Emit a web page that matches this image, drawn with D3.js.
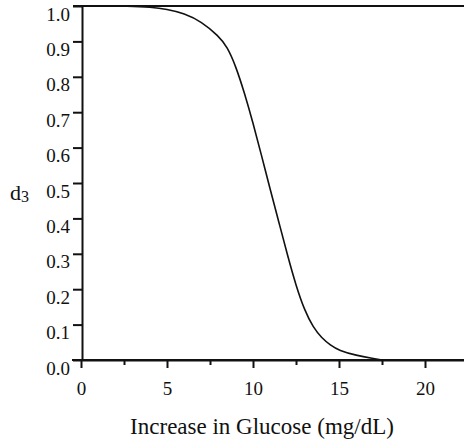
<!DOCTYPE html>
<html>
<head>
<meta charset="utf-8">
<script src="https://cdn.jsdelivr.net/npm/d3@7"></script>
<style>
  body { margin: 0; background: #fff; }
  svg { display: block; }
</style>
</head>
<body>
<svg width="464" height="440"></svg>
<script>
// glucose increase (mg/dL) and d3 values
var glucose = [0, 3, 4, 5, 6, 7, 8, 8.5, 9, 9.5, 10, 10.5, 11, 11.5, 12, 12.5, 13, 13.5, 14, 14.5, 15, 16, 17, 17.5];
var d3vals  = [1.0, 1.0, 0.997, 0.991, 0.979, 0.956, 0.915, 0.885, 0.83, 0.755, 0.67, 0.577, 0.482, 0.39, 0.297, 0.21, 0.14, 0.092, 0.062, 0.042, 0.027, 0.013, 0.004, 0.0];
var xTicks = [0, 5, 10, 15, 20];
var xMinor = [2.5, 7.5, 12.5, 17.5];
var yTicks = [0, 0.1, 0.2, 0.3, 0.4, 0.5, 0.6, 0.7, 0.8, 0.9, 1.0];

var serif = "'Liberation Serif', 'Times New Roman', Times, serif";
var ink = "#111";

var svg = d3.select("svg"),
  margin = { top: 6, right: 0, bottom: 80, left: 81 },
  width = 464 - margin.left - margin.right,
  height = 440 - margin.top - margin.bottom;

var x = d3.scaleLinear().domain([0, width / 17.2]).range([0, width]),
  y = d3.scaleLinear().domain([0, 1]).range([height, 0]);

var g = svg.append("g")
  .attr("transform", "translate(" + margin.left + "," + margin.top + ")");

// x axis, major ticks
var xa = g.append("g")
  .attr("transform", "translate(0," + height + ")")
  .call(d3.axisBottom(x).tickValues(xTicks).tickSize(8).tickSizeOuter(0).tickPadding(0).tickFormat(d3.format("d")));
xa.selectAll(".tick text").attr("y", 35).attr("dy", null);

// minor ticks
g.append("g")
  .attr("transform", "translate(0," + height + ")")
  .call(d3.axisBottom(x).tickValues(xMinor).tickSize(5).tickSizeOuter(0).tickFormat(""))
  .select(".domain").remove();

// y axis (labels sit a bit below their ticks, as in the scan)
var ya = g.append("g")
  .attr("transform", "translate(1,0)")
  .call(d3.axisLeft(y).tickValues(yTicks).tickSize(9).tickSizeOuter(0).tickPadding(3).tickFormat(d3.format(".1f")));
ya.selectAll(".tick text").attr("dy", null).attr("y", 14);

svg.selectAll(".tick text")
  .style("font-family", serif).style("font-size", "19px").style("fill", ink);
svg.selectAll(".domain, .tick line").attr("stroke", ink).attr("stroke-width", 2);

// extend x axis line to the left, and top line at 1.0
g.append("line")
  .attr("x1", -9).attr("x2", width)
  .attr("y1", y(0)).attr("y2", y(0))
  .attr("stroke", ink).attr("stroke-width", 2);
g.append("line")
  .attr("x1", -8).attr("x2", width)
  .attr("y1", y(1)).attr("y2", y(1))
  .attr("stroke", ink).attr("stroke-width", 2);

// curve
var line = d3.line()
  .x(function (d, i) { return x(glucose[i]); })
  .y(function (d) { return y(d); })
  .curve(d3.curveBasis);
g.append("path")
  .datum(d3vals)
  .attr("fill", "none")
  .attr("stroke", ink)
  .attr("stroke-width", 1.6)
  .attr("d", line);

// axis titles
svg.append("text")
  .attr("x", 262).attr("y", 434)
  .attr("text-anchor", "middle")
  .style("font-family", serif).style("font-size", "23px").style("fill", ink)
  .text("Increase in Glucose (mg/dL)");

var yl = svg.append("text")
  .attr("x", 10).attr("y", 200)
  .style("font-family", serif).style("font-size", "22px").style("fill", ink);
yl.append("tspan").text("d");
yl.append("tspan").style("font-size", "16px").attr("dy", 2).text("3");
</script>
</body>
</html>
